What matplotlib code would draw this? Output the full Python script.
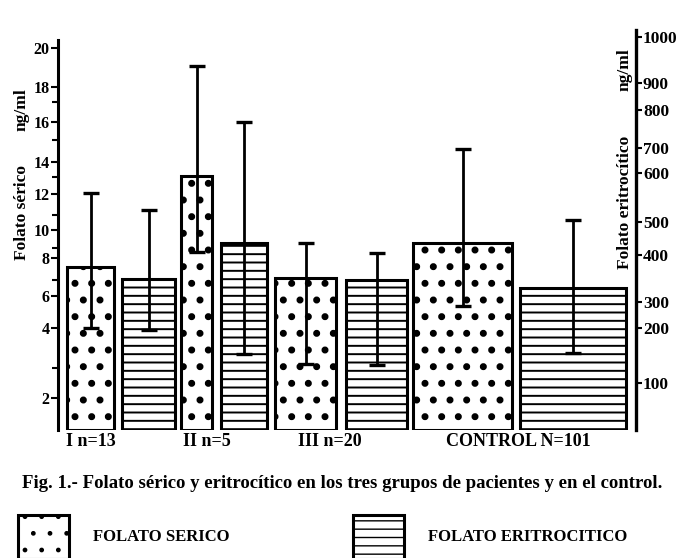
import numpy as np
import matplotlib
matplotlib.use("Agg")
import matplotlib.pyplot as plt

# fuente tipo Times en negrita, como el original impreso
plt.rcParams['font.family'] = ['Liberation Serif', 'DejaVu Serif']
plt.rcParams['font.weight'] = 'bold'

# ---- datos ----
grupos = ['I n=13', 'II n=5', 'III n=20', 'CONTROL N=101']

# folato sérico (ng/ml, eje izquierdo)
serico_media = [7.6, 13.05, 7.1, 9.3]
serico_inf = [4.0, 8.6, 3.1, 5.4]
serico_sup = [12.05, 19.1, 9.3, 14.6]

# folato eritrocítico (ng/ml, eje derecho)
eritro_media = [349, 436, 347, 330]
eritro_inf = [196, 153, 133, 155]
eritro_sup = [524, 768, 406, 504]

ticks_izq = [2, 4, 6, 8, 10, 12, 14, 16, 18, 20]
ticks_izq_menores = [3, 7, 9, 11, 13, 15, 17]
ticks_der = [100, 200, 300, 400, 500, 600, 700, 800, 900, 1000]

# ---- escalas del original (dibujadas a mano, no lineales) ----
# valor -> altura en px sobre la base del gráfico
esc_izq_val = [0, 2, 3, 4, 6, 7, 8, 9, 10, 11, 12, 13, 14, 15, 16, 17, 18, 20, 25]
esc_izq_alt = [-28, 32, 62, 102, 134, 150, 172, 182, 200, 215, 236, 253, 268, 290, 308, 328, 343, 382, 479.5]
esc_der_val = [0, 100, 200, 300, 400, 500, 600, 700, 800, 900, 1000, 1200]
esc_der_alt = [-8, 47, 102, 128, 175, 208, 257, 282, 320, 347, 393, 485]


def escala(vals, alts):
    fwd = lambda v: np.interp(v, vals, alts)
    inv = lambda h: np.interp(h, alts, vals)
    return fwd, inv


fwd_izq, inv_izq = escala(esc_izq_val, esc_izq_alt)
fwd_der, inv_der = escala(esc_der_val, esc_der_alt)

# ---- disposición (px del original) ----
W, H = 680, 558
ax_x0, ax_x1, ax_y0, ax_y1 = 58, 636, 430, 30
ser_izq = [67, 181, 275, 413]
ser_ancho = [47, 31, 61, 99]
eri_izq = [122, 221, 346, 520]
eri_ancho = [53, 46, 61, 106]
pos_etiquetas = [91, 207, 330, 518]

fig = plt.figure(figsize=(W / 100, H / 100), dpi=100)
ax = fig.add_axes([ax_x0 / W, 1 - ax_y0 / H, (ax_x1 - ax_x0) / W, (ax_y0 - ax_y1) / H])
ax.set_yscale('function', functions=(fwd_izq, inv_izq))
ax.set_xlim(ax_x0, ax_x1)
base_izq, tope_izq = float(inv_izq(0)), float(inv_izq(ax_y0 - ax_y1))
ax.set_ylim(base_izq, tope_izq)

ax2 = ax.twinx()
ax2.set_yscale('function', functions=(fwd_der, inv_der))
base_der, tope_der = float(inv_der(0)), float(inv_der(ax_y0 - ax_y1))
ax2.set_ylim(base_der, tope_der)

# barras de folato sérico (punteado)
ser_centros = np.array(ser_izq) + np.array(ser_ancho) / 2
b1 = ax.bar(ser_centros, np.array(serico_media) - base_izq, width=ser_ancho,
            bottom=base_izq, color='white', edgecolor='black', linewidth=2.2,
            hatch='.', label='FOLATO SERICO')
for p in b1:
    if hasattr(p, 'set_hatch_linewidth'):
        p.set_hatch_linewidth(2.6)
ax.errorbar(ser_centros, serico_media,
            yerr=[np.array(serico_media) - np.array(serico_inf),
                  np.array(serico_sup) - np.array(serico_media)],
            fmt='none', ecolor='black', elinewidth=2, capsize=6, capthick=2.4)

# barras de folato eritrocítico (rayado horizontal)
eri_centros = np.array(eri_izq) + np.array(eri_ancho) / 2
b2 = ax2.bar(eri_centros, np.array(eritro_media) - base_der, width=eri_ancho,
             bottom=base_der, color='white', edgecolor='black', linewidth=2.2,
             hatch='--', label='FOLATO ERITROCITICO')
for p in b2:
    if hasattr(p, 'set_hatch_linewidth'):
        p.set_hatch_linewidth(1.4)
ax2.errorbar(eri_centros, eritro_media,
             yerr=[np.array(eritro_media) - np.array(eritro_inf),
                   np.array(eritro_sup) - np.array(eritro_media)],
             fmt='none', ecolor='black', elinewidth=2, capsize=6, capthick=2.4)

# ejes
for a in (ax, ax2):
    a.spines['top'].set_visible(False)
    a.spines['bottom'].set_visible(False)
ax.spines['right'].set_visible(False)
ax2.spines['left'].set_visible(False)
ax.spines['left'].set_linewidth(2.2)
ax2.spines['right'].set_linewidth(2.4)
ax.spines['left'].set_bounds(base_izq, float(inv_izq(ax_y0 - 40)))

ax.set_yticks(ticks_izq)
ax.set_yticklabels([str(t) for t in ticks_izq])
ax.set_yticks(ticks_izq_menores, minor=True)
ax.tick_params(axis='y', which='major', direction='out', length=5, width=1.5,
               pad=1, labelsize=11.5)
ax.tick_params(axis='y', which='minor', direction='out', length=4, width=1.5)

ax2.set_yticks(ticks_der)
ax2.set_yticklabels([str(t) for t in ticks_der])
ax2.yaxis.set_minor_locator(matplotlib.ticker.NullLocator())
ax2.tick_params(axis='y', which='major', direction='out', length=4, width=1.5,
                pad=1, labelsize=12.5)

ax.set_xticks(pos_etiquetas)
ax.set_xticklabels(grupos)
ax.tick_params(axis='x', length=0, pad=2, labelsize=13)

# títulos de los ejes (unidad separada, como en el original)
fig.text(22 / W, 1 - 212 / H, 'Folato sérico', rotation=90,
         ha='center', va='center', fontsize=12.5)
fig.text(22 / W, 1 - 110 / H, 'ng/ml', rotation=90,
         ha='center', va='center', fontsize=12.5)
fig.text(625 / W, 1 - 202 / H, 'Folato eritrocítico', rotation=90,
         ha='center', va='center', fontsize=12.5)
fig.text(625 / W, 1 - 70 / H, 'ng/ml', rotation=90,
         ha='center', va='center', fontsize=12.5)

# pie de figura
fig.text(342 / W, 1 - 483 / H,
         'Fig. 1.- Folato sérico y eritrocítico en los tres grupos de pacientes y en el control.',
         ha='center', va='center', fontsize=13.5)

fig.legend(handles=[b1, b2], loc='upper left', bbox_to_anchor=(6 / W, 1 - 503 / H),
           ncol=2, frameon=False, fontsize=12, handlelength=3.1, handleheight=3.7,
           handletextpad=1.4, columnspacing=7.4, borderpad=0.2)

fig.savefig('out.png', dpi=100)
